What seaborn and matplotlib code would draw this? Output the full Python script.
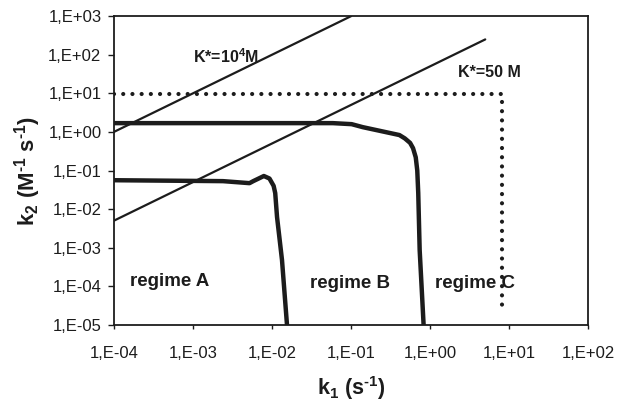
import numpy as np
import pandas as pd
import matplotlib
matplotlib.use('Agg')
import matplotlib.pyplot as plt
import seaborn as sns

# ------------------------------------------------------------------
# Data
# ------------------------------------------------------------------

# Boundary A/B (lower thick curve)
k1_ab = [1e-4, 2.4e-3, 5.2e-3, 5.8e-3, 7.9e-3, 9.3e-3, 0.0105, 0.011, 0.0116, 0.0134, 0.0155]
k2_ab = [0.056, 0.053, 0.047, 0.053, 0.072, 0.062, 0.040, 0.026, 6.2e-3, 4.8e-4, 1e-5]

# Boundary B/C (upper thick curve)
k1_bc = [1e-4, 0.059, 0.102, 0.141, 0.41, 0.48, 0.56, 0.61, 0.66, 0.69, 0.71, 0.74, 0.83]
k2_bc = [1.69, 1.69, 1.59, 1.33, 0.83, 0.68, 0.52, 0.38, 0.22, 0.10, 0.026, 8.7e-4, 1e-5]

# Iso-K* lines
k1_k1e4 = [1e-4, 0.1]
k2_k1e4 = [1.0, 1000.0]
k1_k50 = [1e-4, 5.0]
k2_k50 = [5e-3, 250.0]

# Dotted limit
k1_lim = [1e-4, 8.1, 8.1]
k2_lim = [9.5, 9.5, 2.7e-5]

x_ticks = [1e-4, 1e-3, 1e-2, 1e-1, 1e0, 1e1, 1e2]
x_labels = ['1,E-04', '1,E-03', '1,E-02', '1,E-01', '1,E+00', '1,E+01', '1,E+02']
y_ticks = [1e-5, 1e-4, 1e-3, 1e-2, 1e-1, 1e0, 1e1, 1e2, 1e3]
y_labels = ['1,E-05', '1,E-04', '1,E-03', '1,E-02', '1,E-01', '1,E+00', '1,E+01', '1,E+02', '1,E+03']

# ------------------------------------------------------------------
# Plot
# ------------------------------------------------------------------

sns.set_style('white')
plt.rcParams['font.family'] = ['Liberation Sans', 'DejaVu Sans']
plt.rcParams['mathtext.fontset'] = 'custom'
plt.rcParams['mathtext.rm'] = 'Liberation Sans:bold'
plt.rcParams['mathtext.it'] = 'Liberation Sans:bold'
plt.rcParams['mathtext.bf'] = 'Liberation Sans:bold'
plt.rcParams['mathtext.default'] = 'bf'

fig = plt.figure(figsize=(6.19, 4.05), dpi=100)
ax = fig.add_axes([0.184, 0.198, 0.766, 0.762])

ink = '#1c1c1c'

sns.lineplot(x=k1_k1e4, y=k2_k1e4, ax=ax, color=ink, lw=1.6, estimator=None, sort=False)
sns.lineplot(x=k1_k50, y=k2_k50, ax=ax, color=ink, lw=1.6, estimator=None, sort=False)
sns.lineplot(x=k1_ab, y=k2_ab, ax=ax, color=ink, lw=3.2, estimator=None, sort=False,
             solid_joinstyle='round')
sns.lineplot(x=k1_bc, y=k2_bc, ax=ax, color=ink, lw=3.2, estimator=None, sort=False,
             solid_joinstyle='round')
sns.lineplot(x=k1_lim, y=k2_lim, ax=ax, color=ink, lw=3.0, estimator=None, sort=False,
             linestyle=(0, (0.01, 2.2)), dash_capstyle='round')

ax.set_xscale('log')
ax.set_yscale('log')
ax.set_xlim(1e-4, 1e2)
ax.set_ylim(1e-5, 1e3)

ax.set_xticks(x_ticks)
ax.set_xticklabels(x_labels)
ax.set_yticks(y_ticks)
ax.set_yticklabels(y_labels)
ax.minorticks_off()
ax.tick_params(axis='x', direction='out', length=3, width=1, pad=12, labelsize=12, colors=ink)
ax.tick_params(axis='y', direction='out', length=4, width=1, pad=5, labelsize=12, colors=ink)
ax.tick_params(bottom=True, left=True)

for s in ax.spines.values():
    s.set_color(ink)
    s.set_linewidth(1.3)

ax.set_xlabel(r'k$_1$ (s$^{\text{-}1}$)', fontsize=15.5, fontweight='bold', color=ink, labelpad=10)
ax.set_ylabel(r'k$_2$ (M$^{\text{-}1}$ s$^{\text{-}1}$)', fontsize=16, fontweight='bold', color=ink, labelpad=4)

# Annotations
ax.text(2.6e-3, 92, r'K*=10$^4$M', fontsize=11.5, fontweight='bold', ha='center', va='center', color=ink)
ax.text(5.6, 35, 'K*=50 M', fontsize=11.5, fontweight='bold', ha='center', va='center', color=ink)
ax.text(5.1e-4, 1.3e-4, 'regime A', fontsize=13.5, fontweight='bold', ha='center', va='center', color=ink)
ax.text(0.098, 1.2e-4, 'regime B', fontsize=13.5, fontweight='bold', ha='center', va='center', color=ink)
ax.text(3.7, 1.2e-4, 'regime C', fontsize=13.5, fontweight='bold', ha='center', va='center', color=ink)

fig.savefig('out.png', dpi=100)
